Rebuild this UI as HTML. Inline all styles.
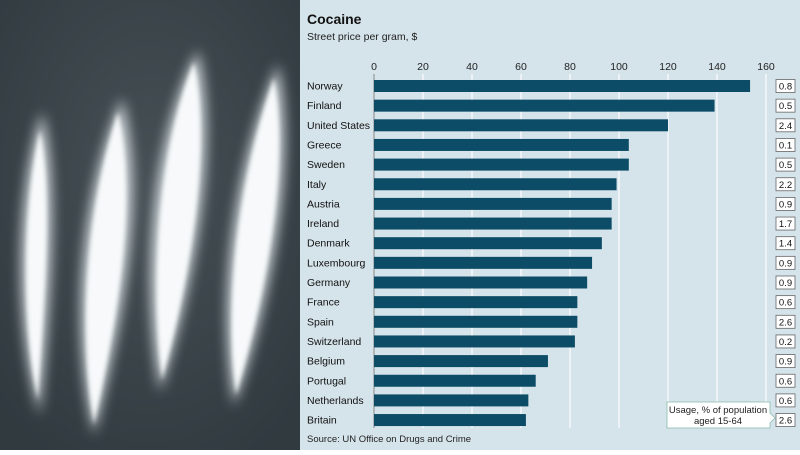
<!DOCTYPE html>
<html><head><style>
body{margin:0;width:800px;height:450px;overflow:hidden;font-family:"Liberation Sans",sans-serif;}
</style></head><body>
<svg width="800" height="450" xmlns="http://www.w3.org/2000/svg" font-family="Liberation Sans, sans-serif">
<defs>
<filter id="b" x="-50%" y="-20%" width="200%" height="140%"><feGaussianBlur stdDeviation="6"/></filter>
<filter id="b2" x="-50%" y="-20%" width="200%" height="140%"><feGaussianBlur stdDeviation="2"/></filter>
<radialGradient id="bg" cx="50%" cy="40%" r="70%"><stop offset="0" stop-color="#465055"/><stop offset="1" stop-color="#303a3f"/></radialGradient>
</defs>
<rect x="0" y="0" width="300" height="450" fill="url(#bg)"/>
<g fill="#dfe6ea" filter="url(#b)" opacity="0.85">
<path d="M42,112 C62,180 48,330 40,415 C16,340 12,200 42,112Z"/>
<path d="M122,98 C150,200 118,340 94,435 C70,330 78,200 122,98Z"/>
<path d="M198,50 C222,150 190,300 160,392 C140,280 150,140 198,50Z"/>
<path d="M278,64 C300,170 265,320 234,406 C216,300 232,170 278,64Z"/>
</g>
<g fill="#f7f9fa" filter="url(#b2)">
<path d="M40,130 C54,200 42,320 38,400 C22,330 22,210 40,130Z"/>
<path d="M118,112 C140,210 112,340 94,425 C78,330 86,210 118,112Z"/>
<path d="M194,62 C214,160 184,300 162,380 C150,280 158,150 194,62Z"/>
<path d="M274,78 C292,180 258,320 236,395 C224,300 238,180 274,78Z"/>
</g>
<rect x="300" y="0" width="500" height="450" fill="#d5e3ea"/>
<text x="307" y="24" font-size="14" font-weight="bold" fill="#111">Cocaine</text>
<text x="307" y="40" font-size="10.5" fill="#222">Street price per gram, $</text>
<g stroke="#f3f7f9" stroke-width="1.5">
<line x1="423" y1="74" x2="423" y2="428"/><line x1="472" y1="74" x2="472" y2="428"/>
<line x1="521" y1="74" x2="521" y2="428"/><line x1="570" y1="74" x2="570" y2="428"/>
<line x1="619" y1="74" x2="619" y2="428"/><line x1="668" y1="74" x2="668" y2="428"/>
<line x1="717" y1="74" x2="717" y2="428"/><line x1="766" y1="74" x2="766" y2="428"/>
</g>
<line x1="374" y1="74" x2="374" y2="428" stroke="#888" stroke-width="1"/>
<g font-size="10.5" fill="#222" text-anchor="middle">
<text x="374" y="70">0</text><text x="423" y="70">20</text><text x="472" y="70">40</text><text x="521" y="70">60</text><text x="570" y="70">80</text><text x="619" y="70">100</text><text x="668" y="70">120</text><text x="717" y="70">140</text><text x="766" y="70">160</text>
</g>
<g id="rows" font-size="10.5" fill="#111"></g>
<polygon points="667,402 770,402 770,413 775,418 770,423 770,428 667,428" fill="#fff" stroke="#8ba" stroke-width="0.8"/>
<text x="718" y="413" font-size="9.5" text-anchor="middle" fill="#222">Usage, % of population</text>
<text x="718" y="424" font-size="9.5" text-anchor="middle" fill="#222">aged 15-64</text>
<text x="307" y="442" font-size="9.5" fill="#222">Source: UN Office on Drugs and Crime</text>
</svg>
<script>
var d=[["Norway",153.5,"0.8"],["Finland",139,"0.5"],["United States",120,"2.4"],["Greece",104,"0.1"],["Sweden",104,"0.5"],["Italy",99,"2.2"],["Austria",97,"0.9"],["Ireland",97,"1.7"],["Denmark",93,"1.4"],["Luxembourg",89,"0.9"],["Germany",87,"0.9"],["France",83,"0.6"],["Spain",83,"2.6"],["Switzerland",82,"0.2"],["Belgium",71,"0.9"],["Portugal",66,"0.6"],["Netherlands",63,"0.6"],["Britain",62,"2.6"]];
var g=document.getElementById("rows"),s="";
d.forEach(function(r,i){var y=86+i*19.65;
s+='<text x="307" y="'+(y+3.5)+'">'+r[0]+'</text>';
s+='<rect x="374" y="'+(y-6)+'" width="'+(r[1]*2.45)+'" height="12" fill="#0d4c66"/>';
s+='<rect x="776" y="'+(y-6.5)+'" width="19" height="13" fill="#fff" stroke="#666" stroke-width="0.8"/>';
s+='<text x="785.5" y="'+(y+3.5)+'" font-size="9.5" text-anchor="middle">'+r[2]+'</text>';});
g.innerHTML=s;
</script>
</body></html>
